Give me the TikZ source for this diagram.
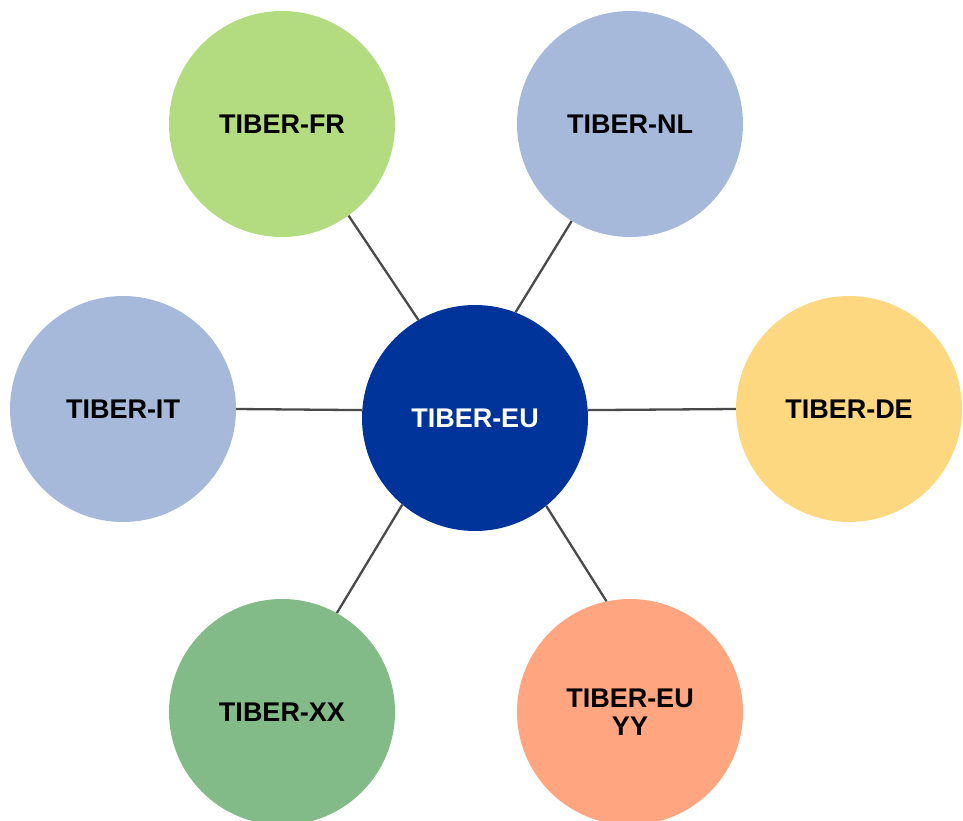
\documentclass[tikz,border=0pt]{standalone}
\usepackage{fontspec}
\setmainfont{Liberation Sans}
\definecolor{cEU}{HTML}{00349A}
\definecolor{cFR}{HTML}{B3DB80}
\definecolor{cNL}{HTML}{A7B9DA}
\definecolor{cDE}{HTML}{FED880}
\definecolor{cXX}{HTML}{82BB88}
\definecolor{cYY}{HTML}{FFA580}
\definecolor{cLine}{HTML}{4A4A4A}
\tikzset{
  bubble/.style={circle, minimum size=226pt, inner sep=0pt, align=center,
    font=\fontsize{27}{28.5}\selectfont\bfseries, text=black},
  link/.style={draw=cLine, line width=2.3pt}
}
\begin{document}
\begin{tikzpicture}[x=1pt,y=-1pt]
\useasboundingbox (0,0) rectangle (963,821);
\fill[white] (0,0) rectangle (963,821);
\begin{scope}
\clip (0,0) rectangle (963,821);
\node[bubble, fill=cFR] (fr) at (282,124) {TIBER-FR};
\node[bubble, fill=cNL] (nl) at (630,124) {TIBER-NL};
\node[bubble, fill=cNL] (it) at (123,409) {TIBER-IT};
\node[bubble, fill=cDE] (de) at (849,409) {TIBER-DE};
\node[bubble, fill=cXX] (xx) at (282,712) {TIBER-XX};
\node[bubble, fill=cYY] (yy) at (630,712) {TIBER-EU\\YY};
\node[bubble, fill=cEU, text=white] (eu) at (475,418) {TIBER-EU};
\draw[link] (fr.-54) -- (eu.120);
\draw[link] (nl.-121) -- (eu.69);
\draw[link] (it.0) -- (eu.176);
\draw[link] (de.180) -- (eu.4.5);
\draw[link] (xx.61) -- (eu.-130);
\draw[link] (yy.102) -- (eu.-51);
\end{scope}
\end{tikzpicture}
\end{document}
